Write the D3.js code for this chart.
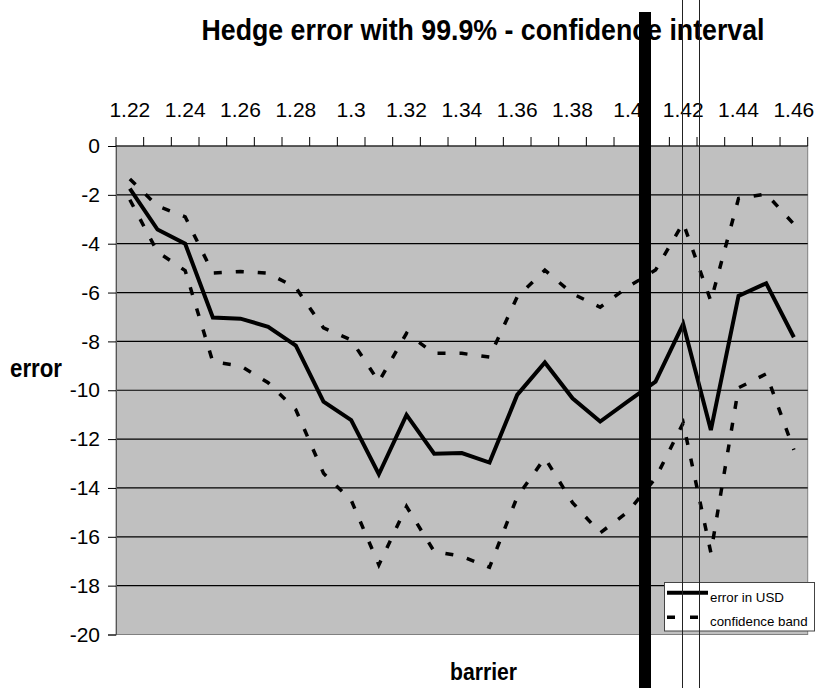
<!DOCTYPE html>
<html><head><meta charset="utf-8">
<script src="https://cdn.jsdelivr.net/npm/d3@7"></script>
<style>
html,body{margin:0;padding:0;background:#fff;}
svg{display:block;font-family:"Liberation Sans",Arial,sans-serif;}
</style></head>
<body>
<svg id="chart" width="818" height="688"></svg>
<script>
// ---- data ----
const categories = [1.22,1.23,1.24,1.25,1.26,1.27,1.28,1.29,1.30,1.31,1.32,1.33,1.34,1.35,1.36,1.37,1.38,1.39,1.40,1.41,1.42,1.43,1.44,1.45,1.46];
const xTickLabels = [1.22,1.24,1.26,1.28,1.30,1.32,1.34,1.36,1.38,1.40,1.42,1.44,1.46];
const yTickValues = [0,-2,-4,-6,-8,-10,-12,-14,-16,-18,-20];
const errorUSD = [-1.75,-3.42,-4.0,-7.02,-7.07,-7.40,-8.17,-10.47,-11.22,-13.44,-11.01,-12.6,-12.57,-12.96,-10.19,-8.86,-10.33,-11.28,-10.46,-9.65,-7.29,-11.63,-6.14,-5.62,-7.83];
const upperBand = [-1.35,-2.46,-2.9,-5.2,-5.14,-5.21,-5.8,-7.45,-7.94,-9.65,-7.67,-8.49,-8.49,-8.64,-6.18,-5.08,-6.05,-6.6,-5.77,-5.08,-3.15,-6.35,-2.15,-1.96,-3.2];
const lowerBand = [-2.2,-4.34,-5.1,-8.84,-9.0,-9.69,-10.8,-13.4,-14.5,-17.15,-14.76,-16.6,-16.8,-17.25,-14.37,-12.77,-14.6,-15.84,-14.98,-13.6,-11.34,-16.65,-9.9,-9.33,-12.44];
const seriesNames = ["error in USD","confidence band"];
const titleText = "Hedge error with 99.9% - confidence interval";

// ---- layout ----
const svg = d3.select("#chart");
const L = 116, R = 807.7, T = 146, B = 634.5;
const x = d3.scaleBand().domain(categories).range([L, R]).padding(0);
const bw = x.bandwidth();
const cx = c => x(c) + bw/2;
const y = d3.scaleLinear().domain([0,-20]).range([T, B]);

// plot area
svg.append("rect").attr("x",L).attr("y",T).attr("width",R-L).attr("height",B-T)
  .attr("fill","#c0c0c0").attr("stroke","#808080").attr("stroke-width",1);

// gridlines
svg.append("g").selectAll("line").data(yTickValues.filter(v=>v!==0 && v!==-20)).join("line")
  .attr("x1",L).attr("x2",R).attr("y1",d=>y(d)).attr("y2",d=>y(d))
  .attr("stroke","#000").attr("stroke-width",1.2);

// y axis
const yAxis = svg.append("g").attr("transform",`translate(${L},0)`)
  .call(d3.axisLeft(y).tickValues(yTickValues).tickSize(8).tickPadding(8).tickFormat(d=>String(d)));
yAxis.select(".domain").attr("stroke","#555");
yAxis.selectAll("text").attr("font-size",21).attr("font-family","Liberation Sans, Arial, sans-serif").attr("fill","#000");

// x axis (top) labels
const xAxis = svg.append("g").attr("transform",`translate(0,${T})`)
  .call(d3.axisTop(x).tickValues(xTickLabels).tickSize(0).tickPadding(29.5).tickFormat(d=>String(d)));
xAxis.select(".domain").remove();
xAxis.selectAll("text").attr("font-size",21).attr("font-family","Liberation Sans, Arial, sans-serif").attr("fill","#000");
// x ticks at band boundaries
const bounds = categories.map(c=>x(c)).concat([x(categories[categories.length-1])+bw]);
svg.append("g").selectAll("line").data(bounds).join("line")
  .attr("x1",d=>d).attr("x2",d=>d).attr("y1",T-9).attr("y2",T)
  .attr("stroke","#000").attr("stroke-width",1);
svg.append("line").attr("x1",L).attr("x2",R).attr("y1",T).attr("y2",T).attr("stroke","#000").attr("stroke-width",1.2);

// series
const line = d3.line().x((d,i)=>cx(categories[i])).y(d=>y(d));
svg.append("path").datum(upperBand).attr("d",line).attr("fill","none")
  .attr("stroke","#000").attr("stroke-width",3.5).attr("stroke-dasharray","8,14");
svg.append("path").datum(lowerBand).attr("d",line).attr("fill","none")
  .attr("stroke","#000").attr("stroke-width",3.5).attr("stroke-dasharray","8,14");
svg.append("path").datum(errorUSD).attr("d",line).attr("fill","none")
  .attr("stroke","#000").attr("stroke-width",4).attr("stroke-linejoin","miter");

// legend
const lg = svg.append("g");
lg.append("rect").attr("x",664.5).attr("y",582.5).attr("width",150).attr("height",48.5)
  .attr("fill","#fff").attr("stroke","#444").attr("stroke-width",1);
lg.append("line").attr("x1",667).attr("x2",708).attr("y1",592.7).attr("y2",592.7)
  .attr("stroke","#000").attr("stroke-width",4);
lg.append("line").attr("x1",667).attr("x2",708).attr("y1",617.3).attr("y2",617.3)
  .attr("stroke","#000").attr("stroke-width",3.5).attr("stroke-dasharray","8,15");
lg.selectAll("text").data(seriesNames).join("text")
  .attr("x",710).attr("y",(d,i)=>601.5+i*24).attr("font-size",13.3).attr("fill","#000").text(d=>d);

// titles
svg.append("text").attr("x",483).attr("y",40).attr("text-anchor","middle")
  .attr("font-size",30).attr("font-weight","bold").attr("textLength",563).attr("lengthAdjust","spacingAndGlyphs")
  .text(titleText);
svg.append("text").attr("x",483.5).attr("y",680).attr("text-anchor","middle")
  .attr("font-size",24).attr("font-weight","bold").attr("textLength",67).attr("lengthAdjust","spacingAndGlyphs")
  .text("barrier");
svg.append("text").attr("x",36).attr("y",377).attr("text-anchor","middle")
  .attr("font-size",25).attr("font-weight","bold").attr("textLength",52).attr("lengthAdjust","spacingAndGlyphs")
  .text("error");

// vertical overlay lines
svg.append("rect").attr("x",639).attr("y",12).attr("width",12).attr("height",688-12).attr("fill","#000");
svg.append("line").attr("x1",682.5).attr("x2",682.5).attr("y1",0).attr("y2",688).attr("stroke","#222").attr("stroke-width",1);
svg.append("line").attr("x1",699.5).attr("x2",699.5).attr("y1",0).attr("y2",688).attr("stroke","#222").attr("stroke-width",1);
</script>
</body></html>
